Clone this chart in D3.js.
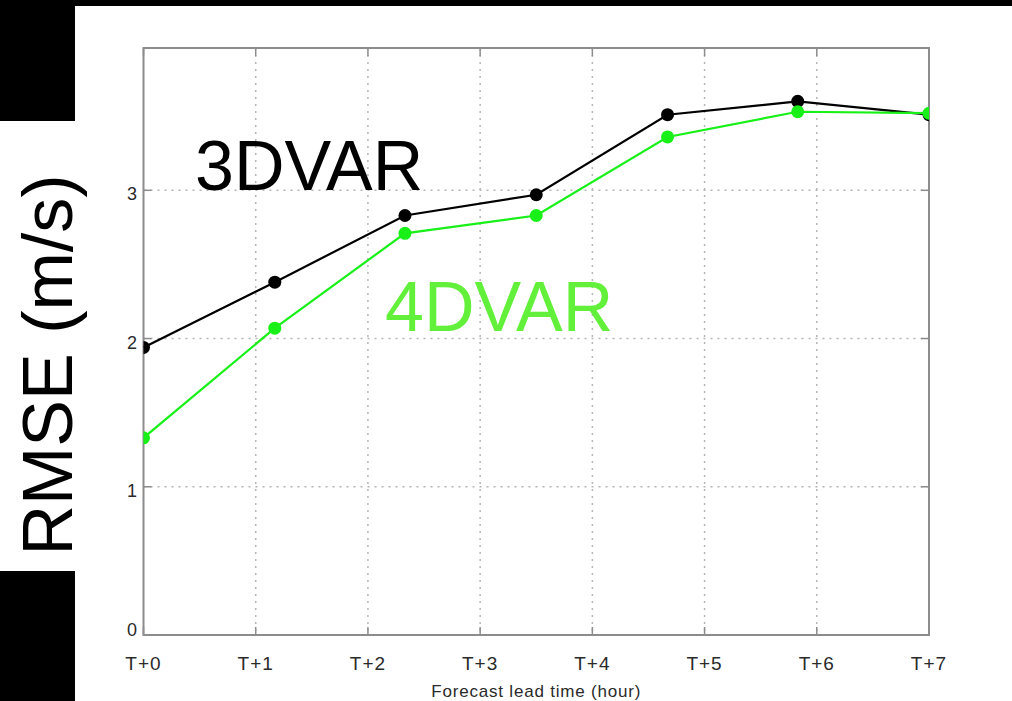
<!DOCTYPE html>
<html>
<head>
<meta charset="utf-8">
<script src="https://cdn.jsdelivr.net/npm/d3@7"></script>
<style>
  body { margin: 0; background: #fff; }
  text { font-family: "Liberation Sans", Arial, Helvetica, sans-serif; }
</style>
</head>
<body>
<script>
// values
var leadTimes = [0, 1.17, 2.33, 3.5, 4.67, 5.83, 7]; // x position of each sample (hours)
var rmse3dvar = [1.94, 2.38, 2.83, 2.97, 3.51, 3.60, 3.51];
var rmse4dvar = [1.33, 2.07, 2.71, 2.83, 3.36, 3.53, 3.52];
var xTicks = [0, 1, 2, 3, 4, 5, 6, 7];
var xTickLabels = ["T+0", "T+1", "T+2", "T+3", "T+4", "T+5", "T+6", "T+7"];
var yTicks = [0, 1, 2, 3];

var width = 1012,
    height = 701,
    pLeft = 143.5, pRight = 929, pTop = 48, pBottom = 635; // plot box

var x = d3.scaleLinear().domain([0, 7]).range([pLeft, pRight]);
var y = d3.scaleLinear().domain([0, 3.96]).range([pBottom, pTop]);

var svg = d3.select("body").append("svg")
    .attr("width", width)
    .attr("height", height);

svg.append("rect").attr("width", width).attr("height", height).attr("fill", "#fff");

// black slide bits around the figure
svg.append("rect").attr("x", 0).attr("y", 0).attr("width", width).attr("height", 6).attr("fill", "#000");
svg.append("rect").attr("x", 0).attr("y", 0).attr("width", 75).attr("height", 121).attr("fill", "#000");
svg.append("rect").attr("x", 0).attr("y", 571).attr("width", 75).attr("height", 130).attr("fill", "#000");

svg.append("clipPath").attr("id", "plotclip")
  .append("rect")
    .attr("x", pLeft).attr("y", pTop)
    .attr("width", pRight - pLeft).attr("height", pBottom - pTop);

// dotted grid
var grid = svg.append("g").attr("stroke", "#b5b5b5").attr("stroke-width", 1.5).attr("stroke-dasharray", "2,5");
grid.selectAll(".vg")
    .data(xTicks.slice(1, -1))
    .enter().append("line")
    .attr("x1", function (d) { return x(d); })
    .attr("x2", function (d) { return x(d); })
    .attr("y1", pTop).attr("y2", pBottom);
grid.selectAll(".hg")
    .data(yTicks.slice(1))
    .enter().append("line")
    .attr("x1", pLeft).attr("x2", pRight)
    .attr("y1", function (d) { return y(d); })
    .attr("y2", function (d) { return y(d); });

// frame
svg.append("rect")
    .attr("x", pLeft).attr("y", pTop)
    .attr("width", pRight - pLeft).attr("height", pBottom - pTop)
    .attr("fill", "none").attr("stroke", "#8c8c8c").attr("stroke-width", 2);

// inward ticks
var ticks = svg.append("g").attr("stroke", "#8c8c8c").attr("stroke-width", 1.5);
xTicks.forEach(function (d) {
    ticks.append("line").attr("x1", x(d)).attr("x2", x(d)).attr("y1", pBottom).attr("y2", pBottom - 8);
    ticks.append("line").attr("x1", x(d)).attr("x2", x(d)).attr("y1", pTop).attr("y2", pTop + 8);
});
yTicks.forEach(function (d) {
    ticks.append("line").attr("x1", pLeft).attr("x2", pLeft + 8).attr("y1", y(d)).attr("y2", y(d));
    ticks.append("line").attr("x1", pRight).attr("x2", pRight - 8).attr("y1", y(d)).attr("y2", y(d));
});

// tick labels
svg.selectAll(".xl")
    .data(xTicks)
    .enter().append("text")
    .attr("x", function (d) { return x(d); })
    .attr("y", 670)
    .attr("text-anchor", "middle")
    .attr("font-size", 19)
    .attr("letter-spacing", 1)
    .attr("fill", "#2a2a2a")
    .text(function (d, i) { return xTickLabels[i]; });

svg.selectAll(".yl")
    .data(yTicks)
    .enter().append("text")
    .attr("x", 137)
    .attr("y", function (d) { return d === 0 ? y(d) + 1 : y(d) + 10; })
    .attr("text-anchor", "end")
    .attr("font-size", 18)
    .attr("fill", "#2a2a2a")
    .text(function (d) { return d; });

svg.append("text")
    .attr("x", (pLeft + pRight) / 2)
    .attr("y", 697)
    .attr("text-anchor", "middle")
    .attr("font-size", 17)
    .attr("letter-spacing", 0.8)
    .attr("fill", "#2a2a2a")
    .text("Forecast lead time (hour)");

// series
var line = d3.line()
    .x(function (d, i) { return x(leadTimes[i]); })
    .y(function (d) { return y(d); });

var plot = svg.append("g").attr("clip-path", "url(#plotclip)");

function series(values, color) {
    plot.append("path")
        .datum(values)
        .attr("fill", "none")
        .attr("stroke", color)
        .attr("stroke-width", 2.2)
        .attr("d", line);
    plot.selectAll(null)
        .data(values)
        .enter().append("circle")
        .attr("cx", function (d, i) { return x(leadTimes[i]); })
        .attr("cy", function (d) { return y(d); })
        .attr("r", 6.5)
        .attr("fill", color);
}
series(rmse3dvar, "#000");
series(rmse4dvar, "#18f018");

// big slide labels
svg.append("text")
    .attr("x", 195)
    .attr("y", 190)
    .attr("font-size", 70)
    .attr("fill", "#000")
    .text("3DVAR");

svg.append("text")
    .attr("x", 385)
    .attr("y", 331)
    .attr("font-size", 70)
    .attr("fill", "#62f03a")
    .text("4DVAR");

svg.append("text")
    .attr("transform", "translate(72,365) rotate(-90)")
    .attr("text-anchor", "middle")
    .attr("font-size", 70)
    .attr("fill", "#000")
    .text("RMSE (m/s)");
</script>
</body>
</html>
